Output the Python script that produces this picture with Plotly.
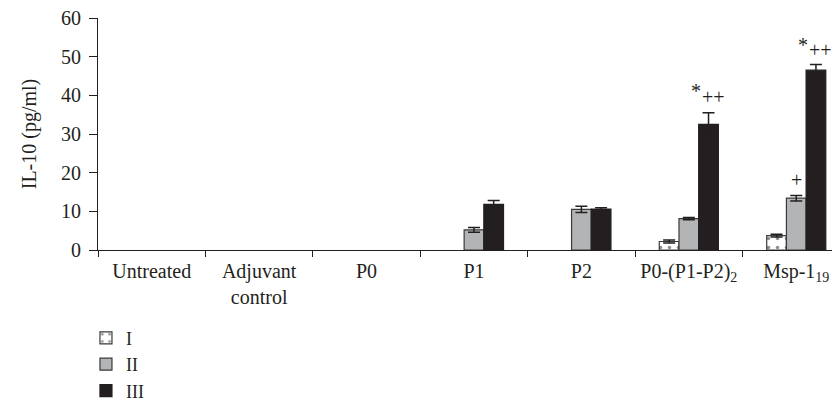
import plotly.graph_objects as go

categories = ["Untreated", "Adjuvant<br>control", "P0", "P1", "P2",
              "P0-(P1-P2)<sub>2</sub>", "Msp-1<sub>19</sub>"]
series_names = ["I", "II", "III"]
vals_I = [None, None, None, None, None, 2.2, 3.7]
err_I = [0, 0, 0, 0, 0, 0.4, 0.35]
vals_II = [None, None, None, 5.2, 10.5, 8.1, 13.4]
err_II = [0, 0, 0, 0.6, 0.8, 0.3, 0.7]
vals_III = [None, None, None, 11.8, 10.6, 32.5, 46.5]
err_III = [0, 0, 0, 1.0, 0.3, 3.0, 1.5]

FONT = "Liberation Serif"
FS = 20
DARK = "#231f20"
OUT = "#3a3a3a"

fig = go.Figure()
fig.add_trace(go.Bar(
    name=series_names[0], x=categories, y=vals_I,
    error_y=dict(type="data", array=err_I, color=DARK, thickness=1.5, width=6, visible=True),
    marker=dict(color="white", line=dict(color=OUT, width=1.2),
                pattern=dict(shape=".", fgcolor=DARK, bgcolor="white", size=9, solidity=0.12)),
))
fig.add_trace(go.Bar(
    name=series_names[1], x=categories, y=vals_II,
    error_y=dict(type="data", array=err_II, color=DARK, thickness=1.5, width=6, visible=True),
    marker=dict(color="#b3b4b6", line=dict(color=OUT, width=1.2)),
))
fig.add_trace(go.Bar(
    name=series_names[2], x=categories, y=vals_III,
    error_y=dict(type="data", array=err_III, color=DARK, thickness=1.5, width=6, visible=True),
    marker=dict(color=DARK, line=dict(color=DARK, width=1.2)),
))

ann_font = dict(family=FONT, size=FS, color=DARK)
annotations = [
    dict(x=categories[5], y=41.0, text="*", xshift=7),
    dict(x=categories[5], y=39.6, text="++", xshift=25),
    dict(x=categories[6], y=53.1, text="*", xshift=7),
    dict(x=categories[6], y=51.8, text="++", xshift=24),
    dict(x=categories[6], y=18.1, text="+", xshift=0),
]
for a in annotations:
    fig.add_annotation(xref="x", yref="y", showarrow=False, font=ann_font, **a)

fig.update_layout(
    width=840, height=420,
    margin=dict(l=90, r=12, t=10, b=178),
    paper_bgcolor="white", plot_bgcolor="white",
    barmode="group", bargap=0.45, bargroupgap=0,
    font=dict(family=FONT, size=FS, color=DARK),
    showlegend=True,
    legend=dict(x=-0.0163, y=-0.300, xanchor="left", yanchor="top",
                font=dict(family=FONT, size=18, color=DARK),
                tracegroupgap=0, itemwidth=30, bgcolor="rgba(0,0,0,0)"),
)
fig.update_xaxes(
    type="category", range=[-0.5, 6.37], automargin=False, tickangle=0,
    showline=True, linecolor=DARK, linewidth=1.2,
    ticks="outside", tickson="boundaries", ticklen=6, tickcolor=DARK, tickwidth=1.2,
    ticklabelstandoff=3, ticklabeloverflow="allow",
    showgrid=False, zeroline=False,
    tickfont=dict(family=FONT, size=FS, color=DARK),
)
fig.update_yaxes(
    range=[0, 60], tickvals=[0, 10, 20, 30, 40, 50, 60], automargin=False,
    showline=True, linecolor=DARK, linewidth=1.2,
    ticks="outside", ticklen=8, tickcolor=DARK, tickwidth=1.2,
    ticklabelstandoff=4, ticklabeloverflow="allow",
    showgrid=False, zeroline=False,
    title=dict(text="IL-10 (pg/ml)", font=dict(family=FONT, size=FS, color=DARK), standoff=18),
    tickfont=dict(family=FONT, size=FS, color=DARK),
)

fig.write_html("out.html")
